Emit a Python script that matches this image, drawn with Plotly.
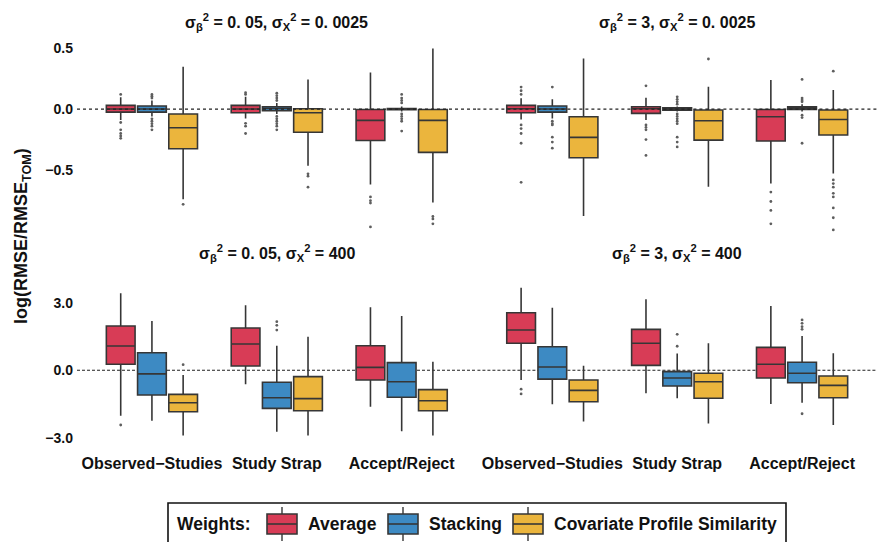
import plotly.graph_objects as go

# ---------------- data ----------------
methods = ["Observed−Studies", "Study Strap", "Accept/Reject"]
weights = ["Average", "Stacking", "Covariate Profile Similarity"]
legend_title = "Weights:"
panel_titles = [
    "σ<sub>β</sub><sup>2</sup> = 0. 05, σ<sub>X</sub><sup>2</sup> = 0. 0025",
    "σ<sub>β</sub><sup>2</sup> = 3, σ<sub>X</sub><sup>2</sup> = 0. 0025",
    "σ<sub>β</sub><sup>2</sup> = 0. 05, σ<sub>X</sub><sup>2</sup> = 400",
    "σ<sub>β</sub><sup>2</sup> = 3, σ<sub>X</sub><sup>2</sup> = 400",
]
y_tickvals_top = [0.5, 0.0, -0.5]
y_ticktext_top = ["0.5", "0.0", "−0.5"]
y_tickvals_bot = [3.0, 0.0, -3.0]
y_ticktext_bot = ["3.0", "0.0", "−3.0"]

# per panel (TL, TR, BL, BR) -> per method (OS, SS, AR)
avg_q1 = [[-0.025, -0.03, -0.257], [-0.03, -0.035, -0.262], [0.27, 0.19, -0.43], [1.2, 0.22, -0.34]]
avg_med = [[0.0, 0.0, -0.093], [0.003, 0.003, -0.063], [1.08, 1.17, 0.13], [1.79, 1.2, 0.27]]
avg_q3 = [[0.03, 0.03, -0.003], [0.03, 0.019, -0.003], [1.97, 1.88, 1.09], [2.56, 1.82, 1.02]]
avg_lo = [[-0.09, -0.077, -0.617], [-0.085, -0.09, -0.61], [-2.02, -0.62, -1.62], [-0.43, -1.02, -1.5]]
avg_hi = [[0.096, 0.10, 0.30], [0.088, 0.093, 0.238], [3.42, 2.89, 2.8], [3.67, 3.16, 2.86]]
avg_out = [
    [[0.12, -0.11, -0.17, -0.2, -0.22, -0.24], [0.134, 0.12, -0.117, -0.14, -0.2], [-0.72, -0.75, -0.77, -0.965]],
    [[0.18, 0.15, 0.12, -0.13, -0.16, -0.2, -0.28, -0.60], [0.19, -0.13, -0.15, -0.17, -0.25, -0.38], [-0.68, -0.757, -0.83, -0.94]],
    [[-2.43], [], []],
    [[-0.84, -1.05], [], []],
]

stk_q1 = [[-0.025, -0.014, -0.005], [-0.025, -0.01, -0.003], [-1.10, -1.69, -1.2], [-0.39, -0.7, -0.55]]
stk_med = [[0.0, 0.005, 0.0], [0.0, 0.0, 0.01], [-0.16, -1.22, -0.51], [0.15, -0.34, -0.13]]
stk_q3 = [[0.025, 0.019, 0.005], [0.025, 0.01, 0.019], [0.78, -0.53, 0.34], [1.05, -0.06, 0.36]]
stk_lo = [[-0.06, -0.04, -0.02], [-0.077, -0.02, -0.02], [-2.24, -2.73, -2.71], [-1.51, -1.24, -1.44]]
stk_hi = [[0.07, 0.05, 0.02], [0.08, 0.02, 0.04], [2.19, 1.09, 2.41], [2.78, 0.75, 1.52]]
stk_out = [
    [[0.09, 0.105, 0.12, -0.08, -0.1, -0.12, -0.14, -0.17],
     [0.13, 0.11, 0.09, 0.07, -0.06, -0.08, -0.1, -0.12, -0.14, -0.17],
     [0.12, 0.09, 0.07, 0.05, -0.04, -0.06, -0.08, -0.1, -0.18]],
    [[0.18, -0.1, -0.12, -0.13, -0.23, -0.27, -0.32],
     [0.1, 0.08, 0.06, 0.04, -0.04, -0.06, -0.08, -0.1, -0.12, -0.23, -0.27, -0.31],
     [0.243, 0.09, 0.075, 0.06, -0.05, -0.07, -0.28]],
    [[], [2.16, 2.0, 1.79], []],
    [[], [1.6, 1.07], [2.24, 2.09, 1.94, 1.82, -1.93]],
]

cps_q1 = [[-0.325, -0.19, -0.355], [-0.399, -0.254, -0.213], [-1.84, -1.8, -1.8], [-1.4, -1.24, -1.22]]
cps_med = [[-0.153, -0.03, -0.093], [-0.232, -0.096, -0.085], [-1.44, -1.26, -1.35], [-0.89, -0.51, -0.67]]
cps_q3 = [[-0.041, 0.002, -0.003], [-0.063, -0.008, -0.008], [-1.07, -0.28, -0.86], [-0.43, -0.13, -0.25]]
cps_lo = [[-0.738, -0.465, -0.765], [-0.875, -0.637, -0.527], [-2.9, -2.9, -2.9], [-2.28, -2.36, -2.43]]
cps_hi = [[0.347, 0.243, 0.497], [0.415, 0.183, 0.156], [-0.21, 1.49, 0.38], [0.2, 1.2, 0.76]]
cps_out = [
    [[-0.78], [-0.53, -0.55, -0.64], [-0.88, -0.9, -0.94]],
    [[], [0.41], [0.31, -0.58, -0.61, -0.64, -0.69, -0.72, -0.81, -0.89, -0.99]],
    [[0.25], [], []],
    [[], [], []],
]

# ---------------- styling ----------------
colors = ["#D83C56", "#3D8AC3", "#EBB53D"]
edge = "#363636"
FONT = "Liberation Sans"
offsets = [-0.25, 0.0, 0.25]
box_w = 0.23

W, H = 877, 542
ml, mr, mt, mb = 77, 0, 38, 97
plot_w = W - ml - mr
plot_h = H - mt - mb


def px_x(px):
    return (px - ml) / plot_w


def px_y(py):
    return (H - mb - py) / plot_h


stats = [
    (avg_q1, avg_med, avg_q3, avg_lo, avg_hi, avg_out),
    (stk_q1, stk_med, stk_q3, stk_lo, stk_hi, stk_out),
    (cps_q1, cps_med, cps_q3, cps_lo, cps_hi, cps_out),
]

fig = go.Figure()
base_x = [1, 2, 3]

for p in range(4):
    ax = "" if p == 0 else str(p + 1)
    for w in range(3):
        q1, med, q3, lo, hi, out = stats[w]
        xs = [b + offsets[w] for b in base_x]
        fig.add_trace(go.Box(
            x=xs, q1=q1[p], median=med[p], q3=q3[p],
            lowerfence=lo[p], upperfence=hi[p],
            width=box_w, whiskerwidth=0,
            fillcolor=colors[w], line=dict(color=edge, width=1.6),
            name=weights[w], legendgroup=weights[w],
            showlegend=False, boxpoints=False,
            xaxis="x" + ax, yaxis="y" + ax,
        ))
        ox, oy = [], []
        for m in range(3):
            for v in out[p][m]:
                ox.append(xs[m])
                oy.append(v)
        if ox:
            fig.add_trace(go.Scatter(
                x=ox, y=oy, mode="markers",
                marker=dict(color="#5E5E5E", size=2.8),
                showlegend=False, hoverinfo="y",
                xaxis="x" + ax, yaxis="y" + ax,
            ))

# zero reference lines
for p in range(4):
    ax = "" if p == 0 else str(p + 1)
    top = p < 2
    fig.add_shape(type="line", xref=("x" + ax + " domain"), yref="y" + ax,
                  x0=0, x1=1, y0=0, y1=0,
                  line=dict(color="#222222", width=1.3 if top else 1.1,
                            dash="dot" if top else "3px,2px"),
                  layer="above" if top else "below")

top_dom = [0.523, 1.0]
bot_dom = [0.0, 0.393]
xl = [0.0, 0.4995]
xr = [0.5005, 1.0]
xrange = [0.4, 3.6]
top_range = [-1.008, 0.582]
bot_range = [-3.32, 3.79]

ytickfont = dict(family=FONT, size=14, color="#111111", weight="bold")
xtickfont = dict(family=FONT, size=16, color="#111111", weight="bold")


def xaxis(dom, anchor, show):
    return dict(domain=dom, anchor=anchor, range=xrange, tickvals=base_x,
                ticktext=methods, showticklabels=show, showgrid=False,
                zeroline=False, showline=False, ticks="", tickfont=xtickfont,
                ticklabelstandoff=7)


def yaxis(dom, anchor, rng, tv, tt, show):
    return dict(domain=dom, anchor=anchor, range=rng, tickvals=tv, ticktext=tt,
                showticklabels=show, showgrid=False, zeroline=False,
                showline=False, ticks="", tickfont=ytickfont,
                ticklabelstandoff=3)


fig.update_layout(
    width=W, height=H,
    margin=dict(l=ml, r=mr, t=mt, b=mb),
    paper_bgcolor="white", plot_bgcolor="white",
    font=dict(family=FONT, size=14, color="#111111", weight="bold"),
    boxmode="overlay",
    showlegend=False,
    xaxis=xaxis(xl, "y", False),
    xaxis2=xaxis(xr, "y2", False),
    xaxis3=xaxis(xl, "y3", True),
    xaxis4=xaxis(xr, "y4", True),
    yaxis=yaxis(top_dom, "x", top_range, y_tickvals_top, y_ticktext_top, True),
    yaxis2=yaxis(top_dom, "x2", top_range, y_tickvals_top, y_ticktext_top, False),
    yaxis3=yaxis(bot_dom, "x3", bot_range, y_tickvals_bot, y_ticktext_bot, True),
    yaxis4=yaxis(bot_dom, "x4", bot_range, y_tickvals_bot, y_ticktext_bot, False),
)

# panel titles
title_y_px = [22, 22, 253, 253]
for i, t in enumerate(panel_titles):
    xc = (xl[0] + xl[1]) / 2 if i % 2 == 0 else (xr[0] + xr[1]) / 2
    fig.add_annotation(text=t, x=xc, y=px_y(title_y_px[i]), xref="paper", yref="paper",
                       xanchor="center", yanchor="middle", showarrow=False,
                       font=dict(family=FONT, size=16, color="#111111", weight="bold"))

# y axis title
fig.add_annotation(text="log(RMSE/RMSE<sub>TOM</sub>)", textangle=-90,
                   x=px_x(22), y=px_y(236),
                   xref="paper", yref="paper", xanchor="center", yanchor="middle",
                   showarrow=False,
                   font=dict(family=FONT, size=18, color="#111111", weight="bold"))

# ---------------- custom legend (box-style keys) ----------------
leg_font = dict(family=FONT, size=17.5, color="#111111", weight="bold")
fig.add_shape(type="rect", xref="paper", yref="paper",
              x0=px_x(168), x1=px_x(786), y0=px_y(503), y1=px_y(548),
              line=dict(color="#111111", width=1.6), fillcolor="white", layer="below")
fig.add_annotation(text=legend_title, x=px_x(175), y=px_y(524), xref="paper", yref="paper",
                   xanchor="left", yanchor="middle", showarrow=False, font=leg_font)
key_left = [267, 388, 513]
label_left = [306, 427, 552]
for w in range(3):
    k0, k1 = key_left[w], key_left[w] + 30
    kc = (k0 + k1) / 2
    # whisker stubs
    fig.add_shape(type="line", xref="paper", yref="paper",
                  x0=px_x(kc), x1=px_x(kc), y0=px_y(507), y1=px_y(541),
                  line=dict(color=edge, width=1.4))
    fig.add_shape(type="rect", xref="paper", yref="paper",
                  x0=px_x(k0), x1=px_x(k1), y0=px_y(514), y1=px_y(534),
                  line=dict(color=edge, width=1.6), fillcolor=colors[w])
    fig.add_shape(type="line", xref="paper", yref="paper",
                  x0=px_x(k0), x1=px_x(k1), y0=px_y(524), y1=px_y(524),
                  line=dict(color=edge, width=1.6))
    fig.add_annotation(text=weights[w], x=px_x(label_left[w]), y=px_y(524),
                       xref="paper", yref="paper", xanchor="left", yanchor="middle",
                       showarrow=False, font=leg_font)

fig.write_html("out.html")
